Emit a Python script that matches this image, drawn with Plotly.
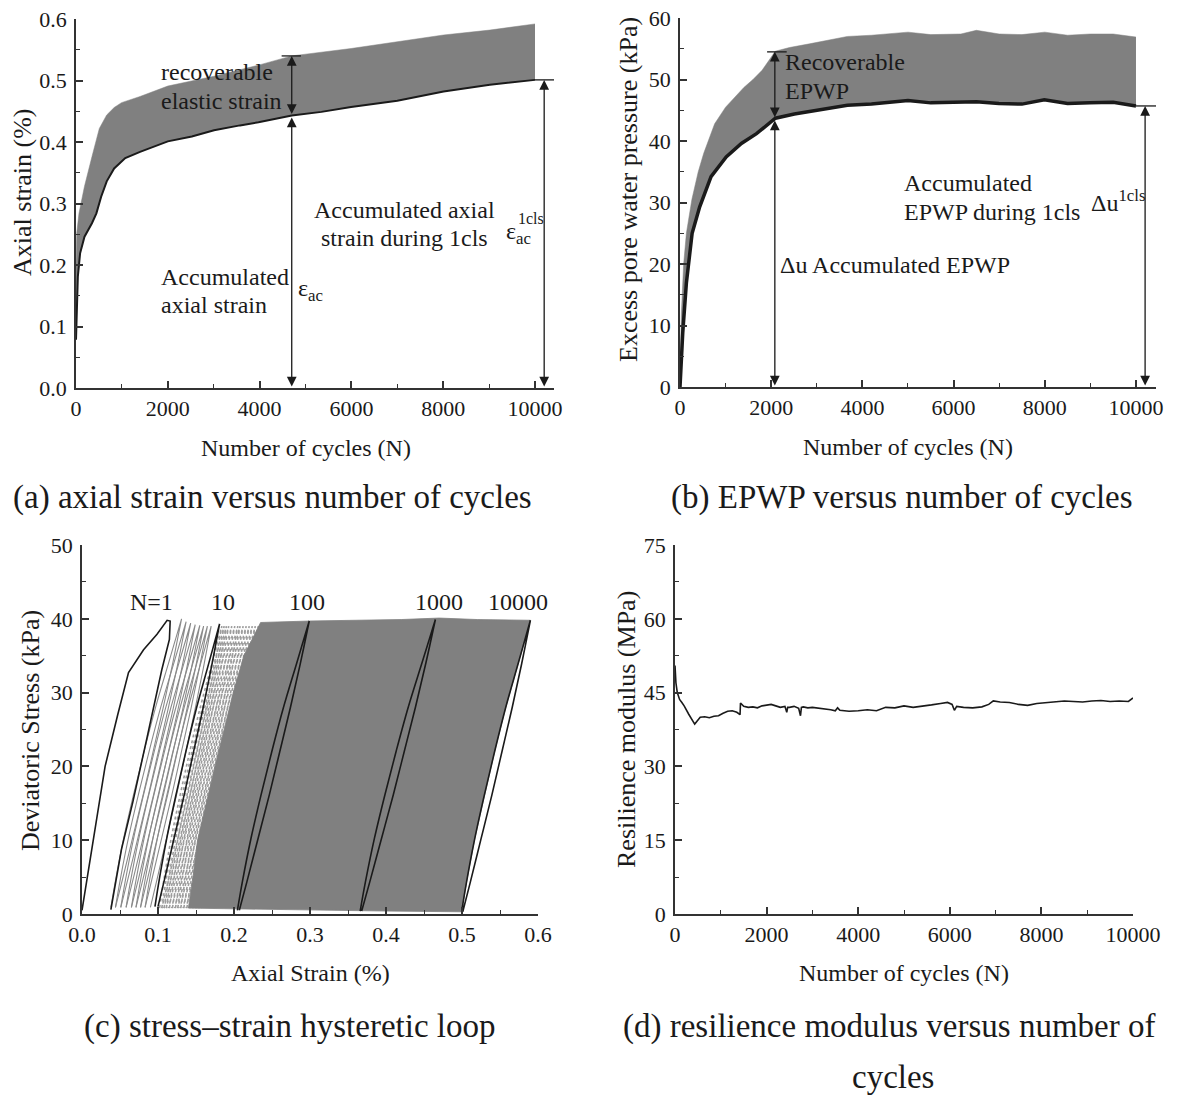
import numpy as np
import plotly.graph_objects as go

W, H = 1177, 1100
FONT = "Liberation Serif"
INK = "#1a1a1a"
GRAY = "#808080"

# ---------------- (a) axial strain vs cycles ----------------
a_low_N = [0, 16, 40, 89, 185, 347, 444, 548, 669, 831, 1073, 1395, 1718, 2000, 2524, 3008,
           3573, 3976, 4702, 5347, 5992, 7000, 8008, 9016, 10000]
a_low_strain = [0.0785, 0.143, 0.181, 0.219, 0.246, 0.268, 0.284, 0.311, 0.336, 0.357, 0.374,
                0.384, 0.393, 0.401, 0.409, 0.419, 0.427, 0.432, 0.443, 0.449, 0.457, 0.467,
                0.482, 0.493, 0.501]
a_up_N = [0, 16, 65, 185, 347, 508, 669, 831, 992, 1395, 2000, 3008, 3976, 4702, 5992, 7000,
          8008, 9016, 10000]
a_up_strain = [0.198, 0.252, 0.284, 0.328, 0.376, 0.422, 0.444, 0.456, 0.464, 0.474, 0.491,
               0.507, 0.525, 0.540, 0.552, 0.563, 0.574, 0.582, 0.592]

# ---------------- (b) EPWP vs cycles ----------------
b_low_N = [0, 30, 60, 140, 266, 432, 681, 1013, 1346, 1678, 2093, 2508, 3007, 3671, 4200, 5000,
           5500, 6163, 6500, 6993, 7500, 7990, 8500, 8987, 9500, 10000]
b_low_u = [0, 5.0, 8.8, 16.9, 25.0, 29.3, 34.2, 37.4, 39.6, 41.2, 43.7, 44.4, 45.0, 45.8, 46.0,
           46.6, 46.2, 46.3, 46.4, 46.1, 46.0, 46.7, 46.1, 46.2, 46.3, 45.7]
b_up_N = [0, 30, 80, 140, 260, 400, 520, 760, 1000, 1180, 1400, 1600, 1800, 2090, 2400, 2840,
          3300, 3670, 4200, 5000, 5500, 6160, 6500, 7000, 7500, 8000, 8500, 9000, 9500, 10000]
b_up_u = [2.0, 12.0, 20.0, 25.0, 30.5, 35.0, 38.0, 42.8, 45.5, 47.0, 48.7, 50.0, 51.5, 54.6,
          55.2, 55.8, 56.4, 57.0, 57.2, 57.7, 57.3, 57.4, 58.0, 57.4, 57.3, 57.7, 57.2, 57.4,
          57.4, 56.9]

# ---------------- (c) hysteretic loops ----------------
c1_load_strain = [0.0, 0.012, 0.0304, 0.047, 0.0612, 0.081, 0.0987, 0.112, 0.116]
c1_load_stress = [0.5, 8.0, 20.0, 27.0, 32.7, 35.8, 37.9, 39.8, 39.7]
c1_unload_strain = [0.116, 0.115, 0.105, 0.086, 0.0667, 0.052, 0.038]
c1_unload_stress = [39.7, 37.2, 33.1, 24.1, 15.1, 8.8, 0.6]

# normalised loop shape (stress fraction vs strain fraction)
loop_stress_frac = [0.0, 0.1, 0.25, 0.4, 0.55, 0.7, 0.85, 1.0]
loop_load_frac = [0.0, 0.07, 0.19, 0.33, 0.48, 0.64, 0.82, 1.0]
loop_unload_frac = [0.0, 0.11, 0.27, 0.43, 0.58, 0.73, 0.87, 1.0]

c_gray_N = [2, 3, 4, 5, 6, 7, 8, 9]
c_gray_start = [0.038, 0.044, 0.051, 0.058, 0.065, 0.071, 0.077, 0.083]
c_gray_peak = [0.131, 0.137, 0.143, 0.149, 0.155, 0.160, 0.165, 0.170]
c_gray_end = [0.044, 0.051, 0.058, 0.065, 0.071, 0.077, 0.083, 0.090]
c_gray_smax = [40.0, 39.6, 39.4, 39.2, 39.1, 39.0, 39.0, 39.0]

c_dot_N = [11, 12, 13, 14, 16, 18, 20, 22, 25, 28, 32, 36, 40, 45, 50]
c_dot_start = [0.102, 0.105, 0.108, 0.111, 0.115, 0.119, 0.123, 0.126, 0.130, 0.134, 0.138,
               0.142, 0.146, 0.150, 0.154]
c_dot_peak = [0.184, 0.187, 0.190, 0.193, 0.197, 0.201, 0.205, 0.208, 0.212, 0.216, 0.220,
              0.224, 0.228, 0.232, 0.236]

c_blk_N = [10, 100, 1000, 10000]
c_blk_start = [0.096, 0.2045, 0.366, 0.4995]
c_blk_peak = [0.181, 0.299, 0.465, 0.590]
c_blk_end = [0.100, 0.207, 0.368, 0.501]
c_blk_smax = [39.3, 39.7, 39.9, 39.8]
c_blk_smin = [1.0, 0.5, 0.4, 0.3]

band_left_strain = [0.140, 0.146, 0.152, 0.163, 0.175, 0.187, 0.199, 0.213, 0.228, 0.235]
band_left_stress = [0.8, 5, 10, 15, 20, 25, 30, 35, 38, 39.5]
band_top_strain = [0.235, 0.30, 0.36, 0.42, 0.47, 0.52, 0.59]
band_top_stress = [39.5, 39.7, 39.8, 39.9, 40.1, 39.9, 39.8]
band_bot_strain = [0.4995, 0.40, 0.30, 0.20, 0.140]
band_bot_stress = [0.3, 0.4, 0.5, 0.7, 0.8]

c_label_text = ["N=1", "10", "100", "1000", "10000"]
c_label_strain = [0.091, 0.185, 0.296, 0.470, 0.574]

# ---------------- (d) resilience modulus ----------------
d_N = [0, 20, 50, 100, 150, 200, 300, 400, 430, 480, 550, 650, 750, 850, 950, 1050, 1150, 1250,
       1350, 1420, 1430, 1500, 1600, 1700, 1800, 1900, 2000, 2100, 2200, 2300, 2400, 2440, 2460,
       2500, 2600, 2700, 2740, 2760, 2800, 2900, 3000, 3200, 3400, 3500, 3550, 3600, 3800, 4000,
       4200, 4400, 4500, 4600, 4800, 5000, 5200, 5400, 5600, 5800, 5950, 6050, 6100, 6150, 6300,
       6500, 6700, 6850, 6950, 7100, 7300, 7500, 7700, 7900, 8100, 8300, 8500, 8700, 8900, 9100,
       9300, 9500, 9700, 9900, 10000]
d_Mr = [50.5, 47.0, 45.0, 43.6, 43.0, 42.3, 40.6, 39.0, 38.6, 39.2, 40.0, 40.1, 39.9, 40.2, 40.3,
        40.8, 41.2, 41.3, 41.0, 40.5, 42.9, 42.2, 42.0, 42.1, 41.9, 42.3, 42.4, 42.6, 42.3, 42.0,
        42.2, 41.0, 42.0, 42.0, 42.2, 41.8, 40.3, 42.0, 42.1, 41.9, 42.0, 41.8, 41.5, 41.3, 41.9,
        41.4, 41.2, 41.3, 41.5, 41.3, 41.7, 42.0, 41.9, 42.3, 42.0, 42.2, 42.5, 42.8, 43.0, 42.6,
        41.4, 42.2, 42.0, 41.9, 42.1, 42.6, 43.3, 43.1, 43.0, 42.6, 42.4, 42.8, 43.0, 43.1, 43.3,
        43.2, 43.1, 43.3, 43.4, 43.2, 43.3, 43.2, 43.9]

# ---------------- figure ----------------
fig = go.Figure()


def loop_xy(start, peak, end, smin, smax):
    f = np.array(loop_stress_frac)
    s = smin + (smax - smin) * f
    lx = start + (peak - start) * np.array(loop_load_frac)
    ux = end + (peak - end) * np.array(loop_unload_frac)
    return list(lx) + list(ux[::-1]), list(s) + list(s[::-1])


# (a)
fig.add_trace(go.Scatter(x=a_low_N, y=a_low_strain, mode="lines", line=dict(width=0),
                         xaxis="x", yaxis="y", showlegend=False, hoverinfo="skip"))
fig.add_trace(go.Scatter(x=a_up_N, y=a_up_strain, mode="lines", line=dict(width=0.5, color=GRAY),
                         fill="tonexty", fillcolor=GRAY, xaxis="x", yaxis="y", showlegend=False))
fig.add_trace(go.Scatter(x=a_low_N, y=a_low_strain, mode="lines", line=dict(width=2, color=INK),
                         xaxis="x", yaxis="y", showlegend=False))

# (b)
fig.add_trace(go.Scatter(x=b_low_N, y=b_low_u, mode="lines", line=dict(width=0),
                         xaxis="x2", yaxis="y2", showlegend=False, hoverinfo="skip"))
fig.add_trace(go.Scatter(x=b_up_N, y=b_up_u, mode="lines", line=dict(width=0.5, color=GRAY),
                         fill="tonexty", fillcolor=GRAY, xaxis="x2", yaxis="y2", showlegend=False))
fig.add_trace(go.Scatter(x=b_low_N, y=b_low_u, mode="lines", line=dict(width=3.5, color=INK),
                         xaxis="x2", yaxis="y2", showlegend=False))

# (c)
for st, pk in zip(c_dot_start, c_dot_peak):
    x, y = loop_xy(st, pk, st + 0.003, 0.8, 39.0)
    fig.add_trace(go.Scatter(x=x, y=y, mode="lines", line=dict(width=1.6, color="#9c9c9c", dash="dot",
                             shape="spline"), xaxis="x3", yaxis="y3", showlegend=False))
# solid band
lx10000, _ = loop_xy(c_blk_start[-1], c_blk_peak[-1], c_blk_end[-1], c_blk_smin[-1], c_blk_smax[-1])
nL = len(loop_stress_frac)
load10000_x = lx10000[:nL]
load10000_y = list(c_blk_smin[-1] + (c_blk_smax[-1] - c_blk_smin[-1]) * np.array(loop_stress_frac))
band_x = band_left_strain + band_top_strain + load10000_x[::-1] + band_bot_strain
band_y = band_left_stress + band_top_stress + load10000_y[::-1] + band_bot_stress
fig.add_trace(go.Scatter(x=band_x, y=band_y, mode="lines", fill="toself", fillcolor=GRAY,
                         line=dict(width=0.8, color=GRAY), xaxis="x3", yaxis="y3", showlegend=False))
for st, pk, en, sm in zip(c_gray_start, c_gray_peak, c_gray_end, c_gray_smax):
    x, y = loop_xy(st, pk, en, 0.9, sm)
    fig.add_trace(go.Scatter(x=x, y=y, mode="lines", line=dict(width=1.1, color="#8a8a8a", shape="spline"),
                             xaxis="x3", yaxis="y3", showlegend=False))
fig.add_trace(go.Scatter(x=c1_load_strain + c1_unload_strain, y=c1_load_stress + c1_unload_stress,
                         mode="lines", line=dict(width=1.6, color=INK), xaxis="x3", yaxis="y3",
                         showlegend=False))
for st, pk, en, smn, smx in zip(c_blk_start, c_blk_peak, c_blk_end, c_blk_smin, c_blk_smax):
    x, y = loop_xy(st, pk, en, smn, smx)
    fig.add_trace(go.Scatter(x=x, y=y, mode="lines", line=dict(width=1.6, color=INK, shape="spline"),
                             xaxis="x3", yaxis="y3", showlegend=False))

# (d)
fig.add_trace(go.Scatter(x=d_N, y=d_Mr, mode="lines", line=dict(width=1.6, color=INK),
                         xaxis="x4", yaxis="y4", showlegend=False))


def px_x(p):
    return p / W


def px_y(p):
    return 1 - p / H


tickfont = dict(family=FONT, size=22, color=INK)


def axis(domain_px, rng, dtick, minor, fmt, horizontal=True):
    if horizontal:
        dom = [px_x(domain_px[0]), px_x(domain_px[1])]
    else:
        dom = [px_y(domain_px[1]), px_y(domain_px[0])]
    d = dict(domain=dom, range=rng, dtick=dtick, tick0=0, tickformat=fmt, automargin=False,
             showline=True, linecolor="#333", linewidth=1.5, ticks="inside", ticklen=7,
             tickwidth=1.5, tickcolor="#333", showgrid=False, zeroline=False,
             tickfont=tickfont, minor=dict(dtick=minor, ticks="inside", ticklen=4,
                                           tickwidth=1.2, tickcolor="#333", showgrid=False),
             fixedrange=True)
    if not horizontal:
        d["ticklabelstandoff"] = 3
    return d


layout = dict(
    width=W, height=H, autosize=False, margin=dict(l=0, r=0, t=0, b=0),
    paper_bgcolor="white", plot_bgcolor="white", showlegend=False,
    font=dict(family=FONT, color=INK),
    xaxis=axis((76, 554), [0, 10414], 2000, 1000, "d"),
    yaxis=axis((19, 388), [0, 0.6], 0.1, 0.05, ".1f", False),
    xaxis2=axis((680, 1156), [0, 10439], 2000, 1000, "d"),
    yaxis2=axis((18, 387), [0, 60], 10, 5, "d", False),
    xaxis3=axis((82, 538), [0, 0.6], 0.1, 0.05, ".1f"),
    yaxis3=axis((545, 914), [0, 50], 10, 5, "d", False),
    xaxis4=axis((675, 1133), [0, 10000], 2000, 1000, "d"),
    yaxis4=axis((545, 914), [0, 75], 15, 7.5, "d", False),
)
for k in ["xaxis", "xaxis2", "xaxis3", "xaxis4"]:
    layout[k]["anchor"] = "y" + k[5:]
for k in ["yaxis", "yaxis2", "yaxis3", "yaxis4"]:
    layout[k]["anchor"] = "x" + k[5:]
fig.update_layout(**layout)

ann = []
shapes = []
AF = 24


def text(xr, yr, x, y, t, anchor="left", size=AF, xshift=0, yshift=0):
    ann.append(dict(xref=xr, yref=yr, x=x, y=y, text=t, showarrow=False, xanchor=anchor,
                    yanchor="middle", font=dict(family=FONT, size=size, color=INK),
                    xshift=xshift, yshift=yshift))


def darrow(xr, yr, x, y0, y1):
    ann.append(dict(xref=xr, yref=yr, axref=xr, ayref=yr, x=x, y=y1, ax=x, ay=y0, text="",
                    showarrow=True, arrowhead=2, arrowside="end+start", arrowsize=1.5,
                    arrowwidth=1.3, arrowcolor=INK, standoff=0, startstandoff=0))


def hline(xr, yr, x0, x1, y):
    shapes.append(dict(type="line", xref=xr, yref=yr, x0=x0, x1=x1, y0=y, y1=y,
                       line=dict(color=INK, width=1.3)))


# (a) annotations
Na = 4700
ya_up = float(np.interp(Na, a_up_N, a_up_strain))
ya_low = float(np.interp(Na, a_low_N, a_low_strain))
hline("x", "y", 4480, 4900, ya_up)
darrow("x", "y", Na, ya_low, ya_up)
darrow("x", "y", Na, 0.0, ya_low - 0.003)
ya_end = a_low_strain[-1]
hline("x", "y", a_low_N[-1], 10414, ya_end)
darrow("x", "y", 10200, 0.0, ya_end)
text("x", "y", 1800, 0.514, "recoverable")
text("x", "y", 1800, 0.466, "elastic strain")
text("x", "y", 7160, 0.29, "Accumulated axial", "center")
text("x", "y", 7160, 0.244, "strain during 1cls", "center")
text("x", "y", 9320, 0.252, "ε<sub>ac</sub>")
text("x", "y", 9320, 0.252, "1cls", size=16, xshift=12, yshift=15)
text("x", "y", 1800, 0.181, "Accumulated")
text("x", "y", 1800, 0.135, "axial strain")
text("x", "y", 4790, 0.16, "ε<sub>ac</sub>")

# (b) annotations
Nb = 2080
yb_up = float(np.interp(Nb, b_up_N, b_up_u))
yb_low = float(np.interp(Nb, b_low_N, b_low_u))
hline("x2", "y2", 1910, 2340, yb_up)
darrow("x2", "y2", Nb, yb_low, yb_up)
darrow("x2", "y2", Nb, 0.0, yb_low - 0.3)
yb_end = b_low_u[-1]
hline("x2", "y2", b_low_N[-1], 10439, yb_end)
darrow("x2", "y2", 10200, 0.0, yb_end)
text("x2", "y2", 2260, 52.8, "Recoverable")
text("x2", "y2", 2260, 48.1, "EPWP")
text("x2", "y2", 4875, 33.2, "Accumulated")
text("x2", "y2", 4875, 28.5, "EPWP during 1cls")
text("x2", "y2", 8980, 30.3, "Δu<sup>1cls</sup>")
text("x2", "y2", 2160, 19.8, "Δu Accumulated EPWP")

# (c) labels
for t, xs in zip(c_label_text, c_label_strain):
    text("x3", "y3", xs, 42.3, t, "center")


# axis titles and captions (paper px)
def ptext(xp, yp, t, size=24, angle=0):
    ann.append(dict(xref="paper", yref="paper", x=px_x(xp), y=px_y(yp), text=t, showarrow=False,
                    xanchor="center", yanchor="middle", textangle=angle,
                    font=dict(family=FONT, size=size, color=INK)))


YT = 26
ptext(306, 448, "Number of cycles (N)")
ptext(22, 192, "Axial strain (%)", YT, -90)
ptext(908, 447, "Number of cycles (N)")
ptext(628, 190, "Excess pore water pressure (kPa)", YT, -90)
ptext(310, 973, "Axial Strain (%)")
ptext(30, 731, "Deviatoric Stress (kPa)", YT, -90)
ptext(904, 973, "Number of cycles (N)")
ptext(626, 730, "Resilience modulus (MPa)", YT, -90)

CAP = 33
ptext(272, 497, "(a) axial strain versus number of cycles", CAP)
ptext(902, 497, "(b) EPWP versus number of cycles", CAP)
ptext(289, 1026, "(c) stress–strain hysteretic loop", CAP)
ptext(889, 1026, "(d) resilience modulus versus number of", CAP)
ptext(893, 1077, "cycles", CAP)

fig.update_layout(annotations=ann, shapes=shapes)
fig.write_html("out.html")
